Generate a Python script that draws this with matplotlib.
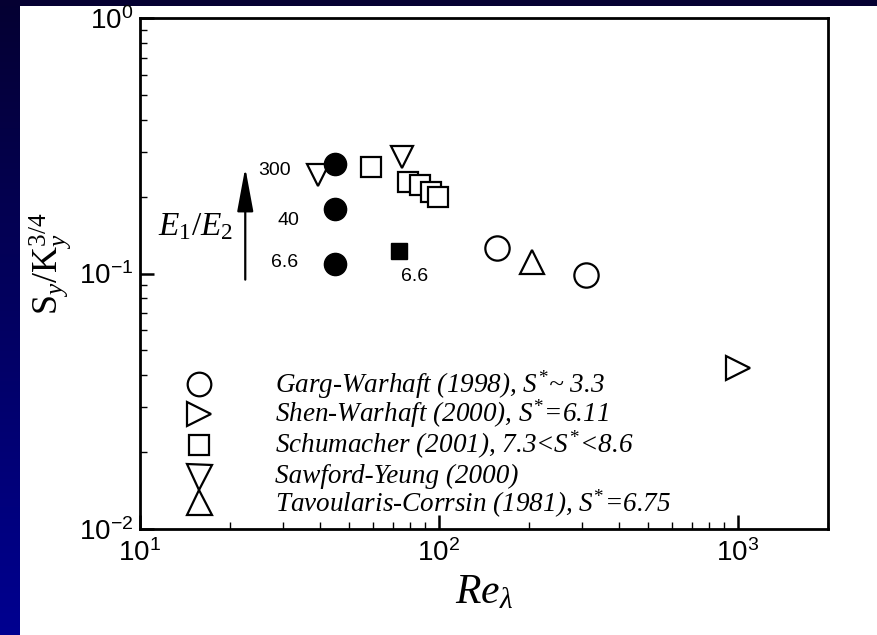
import numpy as np
import matplotlib
matplotlib.use("Agg")
import matplotlib.pyplot as plt

plt.rcParams['font.family'] = ['Liberation Sans', 'DejaVu Sans']
plt.rcParams['mathtext.fontset'] = 'custom'
plt.rcParams['mathtext.rm'] = 'Liberation Serif'
plt.rcParams['mathtext.it'] = 'Liberation Serif:italic'
plt.rcParams['mathtext.cal'] = 'Liberation Serif:italic'
plt.rcParams['axes.unicode_minus'] = False

# -------------------- 数据 --------------------
# 本文数据 E1/E2 = 6.6, 40, 300
cur_re = [45, 45, 45]
cur_s = [0.109, 0.179, 0.269]
cur_lbl = ['6.6', '40', '300']

# 实心方块 6.6
sq_re = [73.5]
sq_s = [0.123]

# 文献数据
garg_re = [156, 310]
garg_s = [0.126, 0.099]
shen_re = [1000]
shen_s = [0.0426]
schu_re = [59.3, 78.7, 86.3, 94.0, 99.3]
schu_s = [0.262, 0.229, 0.223, 0.209, 0.200]
sawf_re = [39.4, 75.2]
sawf_s = [0.244, 0.286]
tav_re = [205]
tav_s = [0.111]

legend_labels = [
    r'Garg-Warhaft (1998), $S^{*}$~ 3.3',
    r'Shen-Warhaft (2000), $S^{*}$=6.11',
    r'Schumacher (2001), 7.3<$S^{*}$<8.6',
    'Sawford-Yeung (2000)',
    r'Tavoularis-Corrsin (1981), $S^{*}$=6.75',
]

# -------------------- 画布 --------------------
fig = plt.figure(figsize=(8.77, 6.35), dpi=100, facecolor='white')

# 背景装饰条
bg_left = fig.add_axes([0, 0, 20 / 877, 1])
grad = np.linspace(0, 1, 256).reshape(-1, 1)
c_top = np.array([5, 0, 50]) / 255
c_bot = np.array([0, 0, 144]) / 255
img = c_top[None, None, :] * (1 - grad[:, :, None]) + c_bot[None, None, :] * grad[:, :, None]
bg_left.imshow(img, aspect='auto', extent=[0, 1, 0, 1])
bg_left.axis('off')
bg_top = fig.add_axes([0, 1 - 6 / 635, 1, 6 / 635])
bg_top.set_facecolor(c_top)
bg_top.set_xticks([])
bg_top.set_yticks([])
for s in bg_top.spines.values():
    s.set_visible(False)

ax = fig.add_axes([140 / 877, 1 - 529 / 635, 688 / 877, 511 / 635])
ax.set_xscale('log')
ax.set_yscale('log')
ax.set_xlim(10, 2000)
ax.set_ylim(0.01, 1)

mew = 1.6
ax.plot(cur_re, cur_s, 'o', ms=16, color='black', mec='black', ls='none')
ax.plot(sq_re, sq_s, 's', ms=12, color='black', ls='none')
ax.plot(garg_re, garg_s, 'o', ms=17.5, mfc='none', mec='black', mew=mew, ls='none')
ax.plot(shen_re, shen_s, '>', ms=17, mfc='none', mec='black', mew=mew, ls='none')
ax.plot(schu_re, schu_s, 's', ms=15, mfc='white', mec='black', mew=mew, ls='none')
ax.plot(sawf_re, sawf_s, 'v', ms=16.5, mfc='none', mec='black', mew=mew, ls='none')
ax.plot(tav_re, tav_s, '^', ms=17.5, mfc='none', mec='black', mew=mew, ls='none')

# 标注 E1/E2 数值（偏移单位：points）
lbl_dx = [-27, -26, -32]
lbl_dy = [1, -8, -5]
for x, y, t, dx, dy in zip(cur_re, cur_s, cur_lbl, lbl_dx, lbl_dy):
    ax.annotate(t, (x, y), xytext=(dx, dy), textcoords='offset points',
                ha='right', va='center', fontsize=14)
ax.annotate('6.6', (sq_re[0], sq_s[0]), xytext=(11, -19), textcoords='offset points',
            ha='center', va='center', fontsize=14)

# 箭头
ax.annotate('', xy=(0.153, 0.707), xycoords=ax.transAxes, xytext=(0.153, 0.488),
            arrowprops=dict(arrowstyle='-|>,head_length=2.7,head_width=0.5',
                            color='black', lw=1.6, shrinkA=0, shrinkB=0))
ax.text(0.135, 0.592, r'$E_{\mathit{1}}/E_2$', transform=ax.transAxes,
        ha='right', va='center', fontsize=24)

# 图例（手动）
leg_marks = ['o', '>', 's', 'v', '^']
leg_y = [0.283, 0.2246, 0.164, 0.1016, 0.0527]
txt_y = [0.283, 0.2246, 0.164, 0.1035, 0.0488]
leg_ms = [17, 17, 14.5, 18, 18]
for m, yy, ty, ms, lab in zip(leg_marks, leg_y, txt_y, leg_ms, legend_labels):
    ax.plot([0.0858], [yy], m, ms=ms, mfc='none', mec='black', mew=mew,
            transform=ax.transAxes, clip_on=False)
    ax.text(0.196, ty, lab, transform=ax.transAxes, ha='left', va='center',
            fontsize=19.5, family='Liberation Serif', style='italic')

# 坐标轴样式
for s in ax.spines.values():
    s.set_linewidth(2.0)
ax.tick_params(which='both', direction='in', top=False, right=False, labelsize=20)
ax.tick_params(axis='x', which='major', pad=7)
ax.tick_params(which='major', length=10, width=1.8)
ax.tick_params(axis='y', which='major', pad=5)
ax.tick_params(which='minor', length=5, width=1.0)

ax.set_xlabel(r'$Re_{\lambda}$', fontsize=30, labelpad=4)
ax.set_ylabel(r'$\mathrm{S}_y/\mathrm{K}_y^{3/4}$', fontsize=26)
ax.yaxis.set_label_coords(-0.098, 0.52)

fig.savefig('out.png', dpi=100, facecolor='white')
